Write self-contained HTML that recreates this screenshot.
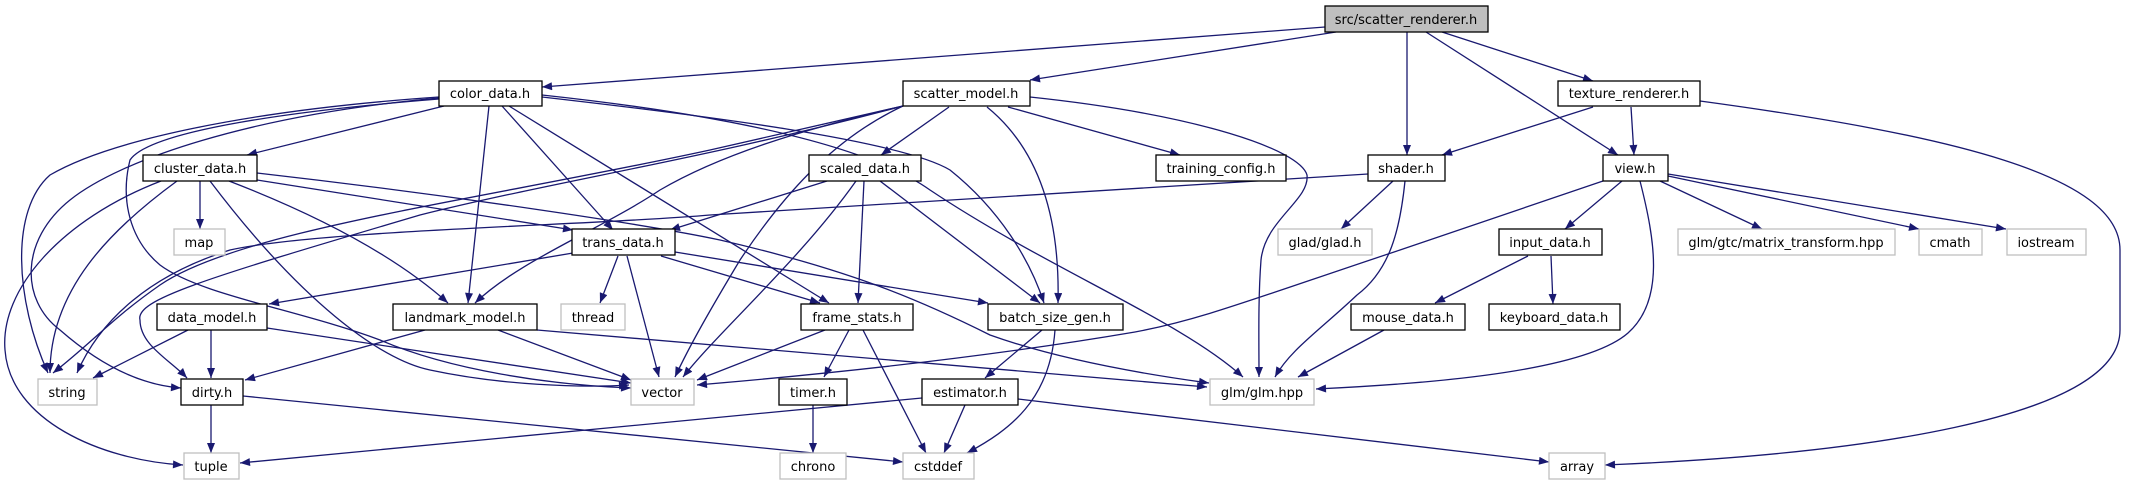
<!DOCTYPE html>
<html><head><meta charset="utf-8"><style>
html,body{margin:0;padding:0;background:#fff;}
svg{display:block;}
text{font-family:"DejaVu Sans","Liberation Sans",sans-serif;font-size:13px;text-anchor:middle;fill:#000;}
.e{fill:none;stroke:#191970;stroke-width:1.3;marker-end:url(#a);}
.n{fill:#fff;stroke:#000;stroke-width:1.3;}
.g{fill:#fff;stroke:#bfbfbf;stroke-width:1.3;}
</style></head><body>
<svg width="2129" height="485" viewBox="0 0 2129 485" xmlns="http://www.w3.org/2000/svg">
<defs><marker id="a" viewBox="0 0 10 8" refX="10" refY="4" markerWidth="11" markerHeight="8" markerUnits="userSpaceOnUse" orient="auto"><path d="M0,0 L10,4 L0,8 z" fill="#191970"/></marker></defs>

<!-- edges -->
<path class="e" d="M1325,27 L542,87"/>
<path class="e" d="M1336,32 L1030,80"/>
<path class="e" d="M1407,32 L1407,155"/>
<path class="e" d="M1426,32 L1618,155"/>
<path class="e" d="M1442,32 L1593,81"/>
<path class="e" d="M1593,107 L1442,155"/>
<path class="e" d="M1631,107 L1634,155"/>
<path class="e" d="M1700,101 C1950,135 2120,175 2120,250 L2120,330 C2120,420 1850,455 1605,465"/>
<path class="e" d="M1622,181 L1565,229"/>
<path class="e" d="M1660,181 L1762,229"/>
<path class="e" d="M1668,176 L1919,229"/>
<path class="e" d="M1668,174 L2006,229"/>
<path class="e" d="M1640,181 C1655,240 1665,300 1628,333 C1580,375 1400,385 1316,389"/>
<path class="e" d="M1603,181 L1400,250 C1250,300 1200,320 1135,332 C1000,355 850,372 697,385"/>
<path class="e" d="M1528,256 L1435,303"/>
<path class="e" d="M1551,256 L1553,304"/>
<path class="e" d="M1384,330 L1298,377"/>
<path class="e" d="M1393,181 L1341,229"/>
<path class="e" d="M1405,181 C1400,230 1390,270 1357,295 C1320,330 1290,350 1275,377"/>
<path class="e" d="M1368,174 L710,215 C600,225 320,230 230,250 C150,275 100,320 77,373"/>
<path class="e" d="M949,107 L881,155"/>
<path class="e" d="M987,107 C1040,150 1060,220 1058,303"/>
<path class="e" d="M1008,107 L1180,155"/>
<path class="e" d="M1030,97 C1200,115 1300,150 1307,175 C1310,200 1265,220 1261,260 C1258,300 1259,340 1259,377"/>
<path class="e" d="M903,106 C830,140 780,200 740,260 C710,310 690,345 675,377"/>
<path class="e" d="M903,106 C800,130 720,155 660,190 C600,230 520,260 475,303"/>
<path class="e" d="M903,106 L710,150 C480,200 240,230 160,285 C110,320 95,340 53,373"/>
<path class="e" d="M903,106 C700,160 560,180 420,215 C200,280 135,300 140,320 C140,345 170,360 187,378"/>
<path class="e" d="M827,181 L670,230"/>
<path class="e" d="M856,181 C800,260 720,330 683,377"/>
<path class="e" d="M864,181 L858,303"/>
<path class="e" d="M880,181 L1040,303"/>
<path class="e" d="M444,106 L247,155"/>
<path class="e" d="M489,106 L468,303"/>
<path class="e" d="M502,106 L613,230"/>
<path class="e" d="M509,106 L829,303"/>
<path class="e" d="M542,97 C700,115 900,140 950,170 C1000,210 1030,260 1044,303"/>
<path class="e" d="M542,95 C700,112 860,140 930,190 C1050,270 1180,320 1243,377"/>
<path class="e" d="M439,97 C250,110 110,140 50,175 C10,210 15,300 48,373"/>
<path class="e" d="M439,98 C250,115 120,160 70,200 C20,240 20,300 60,330 C100,365 140,385 181,388"/>
<path class="e" d="M439,99 C300,110 150,130 130,160 C120,200 130,240 160,265 C200,295 300,310 380,340 C450,370 550,385 631,388"/>
<path class="e" d="M200,181 L200,229"/>
<path class="e" d="M177,181 C110,230 50,290 50,373"/>
<path class="e" d="M161,181 C60,220 0,290 5,350 C10,420 100,460 183,465"/>
<path class="e" d="M257,180 L573,230"/>
<path class="e" d="M257,173 C450,195 650,225 720,240 C850,270 920,300 990,335 C1060,360 1150,375 1209,383"/>
<path class="e" d="M229,181 C330,220 400,260 448,303"/>
<path class="e" d="M210,181 C300,300 380,360 430,370 C500,385 580,388 629,385"/>
<path class="e" d="M573,253 L269,304"/>
<path class="e" d="M618,256 L600,303"/>
<path class="e" d="M627,256 L659,377"/>
<path class="e" d="M661,256 L820,303"/>
<path class="e" d="M675,252 L988,303"/>
<path class="e" d="M188,330 L93,378"/>
<path class="e" d="M211,330 L211,378"/>
<path class="e" d="M267,328 L631,383"/>
<path class="e" d="M425,330 L245,380"/>
<path class="e" d="M498,330 L631,380"/>
<path class="e" d="M537,330 L1207,387"/>
<path class="e" d="M825,330 L697,380"/>
<path class="e" d="M849,330 L824,377"/>
<path class="e" d="M863,330 L926,453"/>
<path class="e" d="M1042,330 L985,378"/>
<path class="e" d="M1055,330 C1050,400 1010,430 967,453"/>
<path class="e" d="M813,405 L813,453"/>
<path class="e" d="M965,405 L944,453"/>
<path class="e" d="M922,398 L240,463"/>
<path class="e" d="M1018,399 L1549,462"/>
<path class="e" d="M211,405 L211,453"/>
<path class="e" d="M243,396 L903,462"/>

<!-- nodes -->
<rect x="1325" y="6" width="163" height="26" fill="#bfbfbf" stroke="#000" stroke-width="1.3"/><text x="1406" y="24">src/scatter_renderer.h</text>
<rect class="n" x="439" y="81" width="103" height="25"/><text x="490" y="98">color_data.h</text>
<rect class="n" x="903" y="81" width="127" height="25"/><text x="966" y="98">scatter_model.h</text>
<rect class="n" x="1558" y="81" width="142" height="25"/><text x="1629" y="98">texture_renderer.h</text>
<rect class="n" x="143" y="155" width="114" height="26"/><text x="200" y="173">cluster_data.h</text>
<rect class="n" x="809" y="155" width="112" height="26"/><text x="865" y="173">scaled_data.h</text>
<rect class="n" x="1156" y="155" width="130" height="26"/><text x="1221" y="173">training_config.h</text>
<rect class="n" x="1368" y="155" width="77" height="26"/><text x="1406" y="173">shader.h</text>
<rect class="n" x="1603" y="155" width="65" height="26"/><text x="1635" y="173">view.h</text>
<rect class="g" x="174" y="229" width="51" height="26"/><text x="199" y="247">map</text>
<rect class="n" x="572" y="229" width="103" height="26"/><text x="623" y="247">trans_data.h</text>
<rect class="g" x="1278" y="229" width="94" height="26"/><text x="1325" y="247">glad/glad.h</text>
<rect class="n" x="1499" y="229" width="103" height="26"/><text x="1550" y="247">input_data.h</text>
<rect class="g" x="1678" y="229" width="217" height="26"/><text x="1786" y="247">glm/gtc/matrix_transform.hpp</text>
<rect class="g" x="1919" y="229" width="63" height="26"/><text x="1950" y="247">cmath</text>
<rect class="g" x="2007" y="229" width="79" height="26"/><text x="2046" y="247">iostream</text>
<rect class="n" x="157" y="304" width="110" height="26"/><text x="212" y="322">data_model.h</text>
<rect class="n" x="393" y="304" width="144" height="26"/><text x="465" y="322">landmark_model.h</text>
<rect class="g" x="561" y="304" width="64" height="26"/><text x="593" y="322">thread</text>
<rect class="n" x="801" y="304" width="112" height="26"/><text x="857" y="322">frame_stats.h</text>
<rect class="n" x="988" y="304" width="135" height="26"/><text x="1055" y="322">batch_size_gen.h</text>
<rect class="n" x="1351" y="304" width="114" height="26"/><text x="1408" y="322">mouse_data.h</text>
<rect class="n" x="1489" y="304" width="131" height="26"/><text x="1554" y="322">keyboard_data.h</text>
<rect class="g" x="38" y="379" width="59" height="26"/><text x="67" y="397">string</text>
<rect class="n" x="181" y="379" width="62" height="26"/><text x="212" y="397">dirty.h</text>
<rect class="g" x="631" y="379" width="63" height="26"/><text x="662" y="397">vector</text>
<rect class="n" x="779" y="379" width="68" height="26"/><text x="813" y="397">timer.h</text>
<rect class="n" x="922" y="379" width="96" height="26"/><text x="970" y="397">estimator.h</text>
<rect class="g" x="1210" y="379" width="104" height="26"/><text x="1262" y="397">glm/glm.hpp</text>
<rect class="g" x="184" y="453" width="55" height="26"/><text x="211" y="471">tuple</text>
<rect class="g" x="780" y="453" width="66" height="26"/><text x="813" y="471">chrono</text>
<rect class="g" x="903" y="453" width="71" height="26"/><text x="938" y="471">cstddef</text>
<rect class="g" x="1549" y="453" width="56" height="26"/><text x="1577" y="471">array</text>
</svg>
</body></html>
